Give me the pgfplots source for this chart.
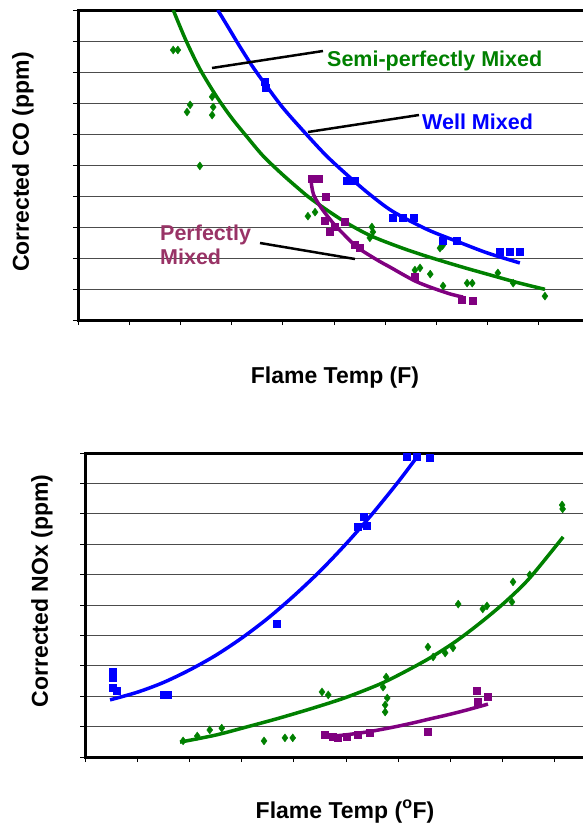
\documentclass[border=0pt]{standalone}
\usepackage{pgfplots}
\pgfplotsset{compat=1.18}
\usepackage{fontspec}
\setmainfont{Liberation Sans}
\definecolor{xlgreen}{RGB}{0,128,0}
\definecolor{xlblue}{RGB}{0,0,255}
\definecolor{xlpurple}{RGB}{128,0,128}
\definecolor{xlplum}{RGB}{153,51,102}

\pgfplotsset{
  flame/.style={
    scale only axis, xmin=0, xmax=10, ymin=0, ymax=10,
    xtick={0,...,10}, ytick={0,...,10},
    xticklabels={}, yticklabels={},
    tick pos=left, tick align=outside, major tick length=5pt,
    tick style={black, line width=1pt},
    ymajorgrids, grid style={black!70, line width=0.8pt},
    axis line style={black, line width=3pt},
  },
  trend/.style={smooth, no marks, line width=3.5pt},
  dia/.style={only marks, mark=diamond*, mark size=4pt},
  sq/.style={only marks, mark=square*, mark size=3.5pt},
}

\begin{document}
\begin{tikzpicture}[x=1pt,y=1pt]
\useasboundingbox (0,0) rectangle (582,-825);

% ---- CO
\begin{axis}[flame, at={(78pt,-320pt)}, anchor=south west, width=512pt, height=310pt]
\addplot[dia, xlgreen] coordinates {
  (1.86,8.71) (1.95,8.71) (2.19,6.94) (2.13,6.71) (2.62,7.2) (2.64,6.87)
  (2.62,6.61) (2.38,4.97) (4.49,3.35) (4.63,3.48) (5.74,3.0) (5.76,2.84)
  (5.7,2.65) (7.07,2.32) (7.12,2.4) (6.58,1.61) (6.68,1.68) (6.88,1.48)
  (7.13,1.1) (7.6,1.19) (7.7,1.19) (8.2,1.52) (8.5,1.19) (9.12,0.77)
};
\addplot[sq, xlblue] coordinates {
  (3.65,7.68) (3.67,7.5) (5.25,4.48) (5.41,4.48) (6.15,3.29) (6.35,3.29)
  (6.55,3.29) (7.13,2.56) (7.39,2.56) (8.24,2.19) (8.44,2.19) (8.63,2.19)
};
\addplot[sq, xlpurple] coordinates {
  (4.57,4.55) (4.71,4.55) (4.84,3.97) (4.82,3.19) (4.92,2.84) (5.02,3.0)
  (5.21,3.16) (5.41,2.42) (5.51,2.32) (6.58,1.39) (7.5,0.65) (7.7,0.61)
};
\addplot[trend, xlgreen] coordinates {
  (1.86,10) (2.1,9.05) (2.38,8.1) (2.71,7.2) (3.0,6.52) (3.28,5.95)
  (3.6,5.32) (3.95,4.76) (4.3,4.25) (4.59,3.86) (5.18,3.2) (5.7,2.73)
  (6.3,2.34) (6.82,2.05) (7.5,1.71) (8.1,1.43) (8.6,1.2) (9.12,0.99)
};
\addplot[trend, xlblue] coordinates {
  (2.73,10) (2.95,9.4) (3.15,8.85) (3.4,8.2) (3.65,7.62) (4.0,6.85)
  (4.4,6.1) (4.85,5.3) (5.31,4.6) (5.7,4.05) (6.15,3.5) (6.82,2.92)
  (7.46,2.5) (8.0,2.16) (8.63,1.84)
};
\addplot[trend, xlpurple] coordinates {
  (4.55,4.5) (4.6,4.05) (4.75,3.62) (4.98,3.13) (5.2,2.75) (5.45,2.35)
  (5.84,1.94) (6.09,1.71) (6.62,1.23) (7.21,0.87) (7.52,0.74)
};
\end{axis}

% ---- NOx
\begin{axis}[flame, at={(85pt,-757pt)}, anchor=south west, width=522pt, height=304pt]
\addplot[dia, xlgreen] coordinates {
  (1.88,0.53) (2.15,0.69) (2.39,0.89) (2.62,0.95) (3.43,0.53) (3.83,0.63)
  (3.98,0.63) (4.54,2.14) (4.66,2.04) (5.77,2.63) (5.71,2.3) (5.79,1.94)
  (5.75,1.71) (5.75,1.48) (6.57,3.62) (6.67,3.29) (6.9,3.42) (7.05,3.59)
  (7.15,5.03) (7.62,4.87) (7.7,4.97) (8.2,5.76) (8.18,5.1) (8.52,5.99)
  (9.14,8.29) (9.15,8.16)
};
\addplot[sq, xlblue] coordinates {
  (0.54,2.8) (0.54,2.6) (0.54,2.27) (0.61,2.17) (1.5,2.04) (1.59,2.04)
  (3.68,4.38) (5.33,7.9) (5.23,7.57) (5.4,7.6) (6.17,9.87) (6.36,9.87)
  (6.61,9.84)
};
\addplot[sq, xlpurple] coordinates {
  (4.6,0.72) (4.75,0.66) (4.85,0.63) (5.02,0.66) (5.23,0.72) (5.46,0.79)
  (6.57,0.82) (7.51,2.17) (7.53,1.81) (7.72,2.0)
};
\addplot[trend, xlblue] coordinates {
  (0.48,1.88) (1.0,2.13) (1.5,2.45) (2.0,2.86) (2.5,3.34) (3.0,3.91)
  (3.5,4.56) (4.0,5.3) (4.5,6.11) (5.0,7.01) (5.5,7.99) (6.0,9.05)
  (6.4,9.96)
};
\addplot[trend, xlgreen] coordinates {
  (1.82,0.49) (2.5,0.72) (3.1,0.99) (3.7,1.27) (4.37,1.61) (5.0,1.96)
  (5.65,2.4) (6.1,2.78) (6.61,3.26) (7.1,3.8) (7.57,4.41) (8.05,5.1)
  (8.52,5.89) (9.16,7.24)
};
\addplot[trend, xlpurple] coordinates {
  (4.56,0.66) (5.0,0.73) (5.46,0.84) (5.9,0.98) (6.28,1.12) (6.6,1.25)
  (6.93,1.38) (7.3,1.54) (7.72,1.74)
};
\end{axis}

% ---- labels and callouts
\begin{scope}[font=\fontsize{23}{27}\selectfont\bfseries]
\node[anchor=base] at (335,-383) {Flame Temp (F)};
\node[anchor=base] at (345,-818) {Flame Temp (\textsuperscript{o}F)};
\node[rotate=90] at (23,-162) {Corrected CO (ppm)};
\node[rotate=90] at (42,-591) {Corrected NOx (ppm)};
\end{scope}
\begin{scope}[font=\fontsize{21.5}{25}\selectfont\bfseries, inner sep=0pt]
\node[anchor=base west, text=xlgreen] at (327,-66) {Semi-perfectly Mixed};
\node[anchor=base west, text=xlblue] at (422,-129) {Well Mixed};
\node[anchor=base west, text=xlplum] at (160,-240) {Perfectly};
\node[anchor=base west, text=xlplum] at (160,-264) {Mixed};
\end{scope}
\draw[line width=2.5pt] (212,-68) -- (323,-51);
\draw[line width=2.5pt] (308,-132) -- (419,-115);
\draw[line width=2.5pt] (260,-243) -- (355,-259);
\end{tikzpicture}
\end{document}
